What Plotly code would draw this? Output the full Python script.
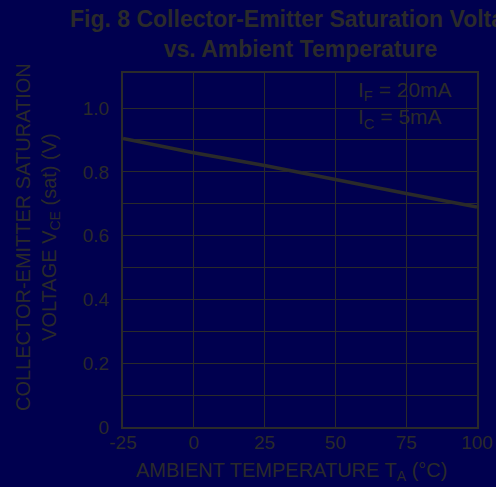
import plotly.graph_objects as go

temps = [-25, 0, 25, 50, 75, 100]
vce_sat = [0.905, 0.860, 0.820, 0.775, 0.732, 0.690]

y_tick_vals = [0, 0.2, 0.4, 0.6, 0.8, 1.0]
y_tick_text = ["0", "0.2", "0.4", "0.6", "0.8", "1.0"]
y_minor_vals = [0.1, 0.3, 0.5, 0.7, 0.9]
x_tick_vals = [-25, 0, 25, 50, 75, 100]
x_tick_text = ["-25", "0", "25", "50", "75", "100"]

BG = "#00004f"
FG = "#2a2a2a"
FONT = "Liberation Sans, Arial, sans-serif"

W, H = 496, 487
L, R, T, B = 123, 19, 73, 60
pw, ph = W - L - R, H - T - B
def px(xp): return (xp - L) / pw
def py(yp): return (H - B - yp) / ph

fig = go.Figure()
fig.add_trace(go.Scatter(x=temps, y=vce_sat, mode="lines",
                         line=dict(color=FG, width=3.5), showlegend=False))

fig.update_layout(
    width=W, height=H,
    paper_bgcolor=BG, plot_bgcolor=BG,
    margin=dict(l=L, r=R, t=T, b=B, autoexpand=False),
    font=dict(family=FONT, color=FG, size=19),
)
fig.update_xaxes(range=[-25, 100], tickvals=x_tick_vals, ticktext=x_tick_text,
                 showgrid=True, gridcolor=FG, gridwidth=1,
                 showline=True, linecolor=FG, linewidth=2, mirror=True,
                 ticks="", zeroline=False, automargin=False,
                 ticklabelstandoff=-3, tickfont=dict(size=19, color=FG))
fig.update_yaxes(range=[0, 1.11], tickvals=y_tick_vals, ticktext=y_tick_text,
                 showgrid=True, gridcolor=FG, gridwidth=1,
                 minor=dict(tickvals=y_minor_vals, showgrid=True, gridcolor=FG, gridwidth=1),
                 showline=True, linecolor=FG, linewidth=2, mirror=True,
                 ticks="", zeroline=False, automargin=False,
                 ticklabelstandoff=8, tickfont=dict(size=19, color=FG))

fig.add_annotation(text="<b>Fig. 8 Collector-Emitter Saturation Voltage<br>vs. Ambient Temperature</b>",
                   xref="paper", yref="paper", x=px(300), y=py(34),
                   xanchor="center", yanchor="middle", showarrow=False,
                   font=dict(size=23, color=FG, family=FONT))
fig.add_annotation(text="AMBIENT TEMPERATURE T<sub>A</sub> (°C)",
                   xref="paper", yref="paper", x=px(291), y=py(471),
                   xanchor="center", yanchor="middle", showarrow=False,
                   font=dict(size=20, color=FG))
fig.add_annotation(text="COLLECTOR-EMITTER SATURATION<br>VOLTAGE V<sub>CE</sub> (sat) (V)",
                   xref="paper", yref="paper", x=px(38), y=py(237),
                   xanchor="center", yanchor="middle", showarrow=False,
                   textangle=-90, font=dict(size=20, color=FG))
fig.add_annotation(text="I<sub>F</sub> = 20mA<br>I<sub>C</sub> = 5mA", align="left",
                   xref="paper", yref="paper", x=px(356), y=py(105),
                   xanchor="left", yanchor="middle", showarrow=False,
                   font=dict(size=21, color=FG))

fig.write_html("out.html", config={"displayModeBar": False},
               post_script="document.body.style.margin='0';document.body.style.background='%s';" % BG)
